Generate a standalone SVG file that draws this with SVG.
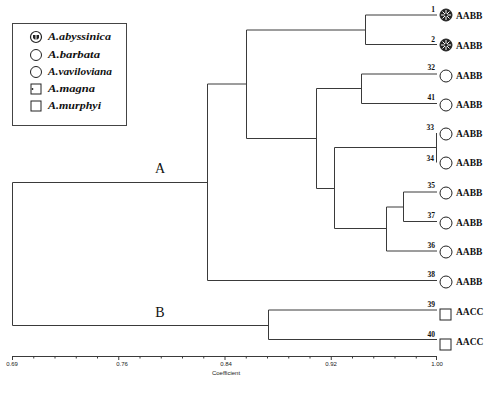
<svg xmlns="http://www.w3.org/2000/svg" width="490" height="397" viewBox="0 0 490 397">
<defs>
<style>
.ln{stroke:#3a3a3a;stroke-width:1;fill:none}
.num{font-family:"Liberation Serif",serif;font-weight:bold;font-size:7.5px;fill:#111;text-anchor:end}
.gen{font-family:"Liberation Serif",serif;font-weight:bold;font-size:9.5px;fill:#111}
.leg{font-family:"Liberation Serif",serif;font-weight:bold;font-style:italic;font-size:10px;fill:#111}
.cl{font-family:"Liberation Serif",serif;font-size:14px;fill:#111;text-anchor:middle}
.ax{font-family:"Liberation Sans",sans-serif;font-size:6px;fill:#222;text-anchor:middle}
.sym{stroke:#222;stroke-width:1;fill:#fff}
</style>
<g id="abys">
<circle r="6" fill="#222" stroke="#222"/>
<path d="M0,-5V5M-5,0H5M-3.5,-3.5L3.5,3.5M-3.5,3.5L3.5,-3.5" stroke="#fff" stroke-width="1"/>
<circle r="1.5" fill="#222"/>
</g>
<circle id="circ" r="6" class="sym"/>
<rect id="sq" x="0" y="0" width="11" height="11" class="sym"/>
</defs>
<rect width="490" height="397" fill="#fff"/>

<g id="legend">
<rect x="12.5" y="23.5" width="114" height="102" fill="none" stroke="#444" stroke-width="1"/>
<g id="leg-abyssinica">
<circle cx="36" cy="37" r="5.5" fill="#fff" stroke="#222" stroke-width="1.2"/>
<path d="M33,38 A3.5,3.5 0 0 0 39,38 L39,35 L33,35 Z" fill="#222"/>
<path d="M36,34V40" stroke="#fff" stroke-width="1"/>
<text class="leg" x="48" y="40" textLength="63" lengthAdjust="spacingAndGlyphs">A.abyssinica</text>
</g>
<g id="leg-barbata">
<circle cx="36" cy="55" r="5.5" class="sym"/>
<text class="leg" x="48" y="58" textLength="52" lengthAdjust="spacingAndGlyphs">A.barbata</text>
</g>
<g id="leg-vaviloviana">
<circle cx="36" cy="72" r="5.5" class="sym"/>
<text class="leg" x="48" y="75" textLength="64" lengthAdjust="spacingAndGlyphs">A.vaviloviana</text>
</g>
<g id="leg-magna">
<rect x="31" y="84" width="10" height="10" class="sym"/>
<circle cx="32.5" cy="89" r="0.9" fill="#222"/>
<text class="leg" x="48" y="92" textLength="47" lengthAdjust="spacingAndGlyphs">A.magna</text>
</g>
<g id="leg-murphyi">
<rect x="31" y="101" width="10" height="10" class="sym"/>
<text class="leg" x="48" y="109" textLength="53" lengthAdjust="spacingAndGlyphs">A.murphyi</text>
</g>
</g>

<g id="connectors" class="ln">
<!-- root -->
<path d="M207.5,182.5H12.5V325.5H268.5"/>
<!-- A -->
<path d="M246.5,84H207.5V280.5H437"/>
<path d="M365.5,30H246.5V138.5H316.5"/>
<path d="M437,15H365.5V44.5H437"/>
<path d="M361.5,88.5H316.5V188.5H334.5"/>
<path d="M437,74H361.5V103.5H437"/>
<path d="M436.5,147.5H334.5V228.5H386.5"/>
<path d="M436.5,133V162.5"/>
<path d="M403.5,207H386.5V251H437"/>
<path d="M437,192H403.5V221.5H437"/>
<!-- B -->
<path d="M437,310H268.5V339.5H437"/>
</g>

<g id="clusters">
<text class="cl" x="160" y="173">A</text>
<text class="cl" x="160" y="317">B</text>
</g>

<g id="leaf-1"><text class="num" x="435" y="12">1</text><use href="#abys" x="446" y="15"/><text class="gen" x="456" y="19">AABB</text></g>
<g id="leaf-2"><text class="num" x="435" y="41.5">2</text><use href="#abys" x="446" y="45"/><text class="gen" x="456" y="49">AABB</text></g>
<g id="leaf-32"><text class="num" x="435" y="70">32</text><use href="#circ" x="446" y="76"/><text class="gen" x="456" y="79">AABB</text></g>
<g id="leaf-41"><text class="num" x="435" y="100">41</text><use href="#circ" x="446" y="105"/><text class="gen" x="456" y="108">AABB</text></g>
<g id="leaf-33"><text class="num" x="434" y="130">33</text><use href="#circ" x="446" y="134"/><text class="gen" x="456" y="137">AABB</text></g>
<g id="leaf-34"><text class="num" x="434" y="161">34</text><use href="#circ" x="446" y="163"/><text class="gen" x="456" y="166">AABB</text></g>
<g id="leaf-35"><text class="num" x="435" y="188">35</text><use href="#circ" x="446" y="193"/><text class="gen" x="456" y="196">AABB</text></g>
<g id="leaf-37"><text class="num" x="435" y="218">37</text><use href="#circ" x="446" y="223"/><text class="gen" x="456" y="226">AABB</text></g>
<g id="leaf-36"><text class="num" x="435" y="248">36</text><use href="#circ" x="446" y="252"/><text class="gen" x="456" y="255">AABB</text></g>
<g id="leaf-38"><text class="num" x="435" y="277">38</text><use href="#circ" x="446" y="282"/><text class="gen" x="456" y="285">AABB</text></g>
<g id="leaf-39"><text class="num" x="435" y="307">39</text><use href="#sq" x="440" y="309"/><text class="gen" x="456" y="315">AACC</text></g>
<g id="leaf-40"><text class="num" x="435" y="337">40</text><use href="#sq" x="440" y="339"/><text class="gen" x="456" y="345">AACC</text></g>

<g id="axis">
<path class="ln" d="M12,356.5H437"/>
<path class="ln" d="M12.5,356V360M33.75,356V358.5M55,356V358.5M76.25,356V358.5M97.5,356V358.5M118.75,356V360M140,356V358.5M161.25,356V358.5M182.5,356V358.5M203.75,356V358.5M225,356V360M246.25,356V358.5M267.5,356V358.5M288.75,356V358.5M310,356V358.5M331.25,356V360M352.5,356V358.5M373.75,356V358.5M395,356V358.5M416.25,356V358.5M436.5,356V360"/>
<text class="ax" x="12" y="366">0.69</text>
<text class="ax" x="122" y="366">0.76</text>
<text class="ax" x="226" y="366">0.84</text>
<text class="ax" x="331" y="366">0.92</text>
<text class="ax" x="437" y="366">1.00</text>
<text class="ax" x="226" y="375" font-size="7">Coefficient</text>
</g>
</svg>
